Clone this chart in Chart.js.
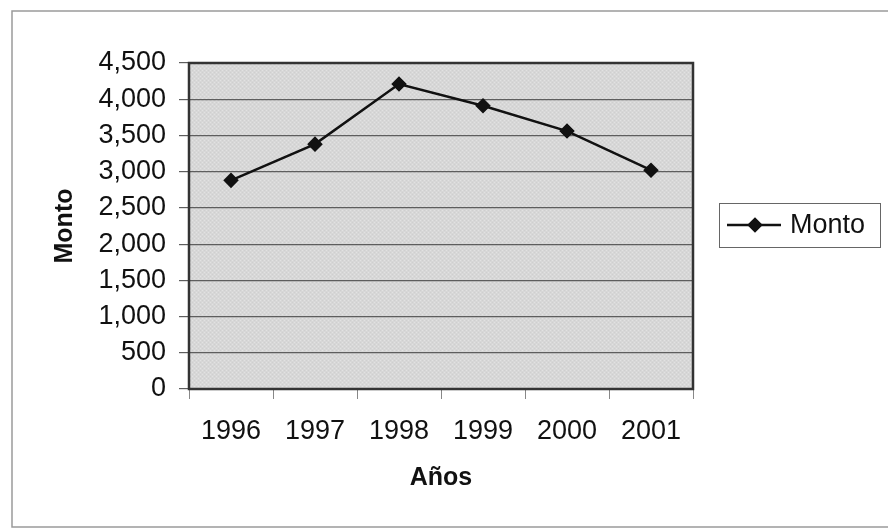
<!DOCTYPE html>
<html>
<head>
    <meta charset="utf-8">
    <title>Monto por año</title>
    <script src="https://cdn.jsdelivr.net/npm/chart.js"></script>
    <style>
        body { margin: 0; background: #fff; }
        #wrap { width: 888px; height: 529px; }
    </style>
</head>
<body>
    <div id="wrap"><canvas id="grafico"></canvas></div>

    <script>
        // Datos
        const anios = ['1996', '1997', '1998', '1999', '2000', '2001'];
        const monto = [2880, 3380, 4210, 3910, 3560, 3020];
        const serie = 'Monto';
        const tituloX = 'Años';
        const tituloY = 'Monto';

        const fuente = "'Liberation Sans', Arial, sans-serif";

        // trama gris clara para el area de trazado
        function trama() {
            const c = document.createElement('canvas');
            c.width = 4; c.height = 4;
            const g = c.getContext('2d');
            g.fillStyle = '#d7d7d7';
            g.fillRect(0, 0, 4, 4);
            g.fillStyle = '#e2e2e2';
            g.fillRect(0, 0, 1, 1);
            g.fillRect(2, 2, 1, 1);
            g.fillStyle = '#cfcfcf';
            g.fillRect(2, 0, 1, 1);
            g.fillRect(0, 2, 1, 1);
            return g.createPattern(c, 'repeat');
        }

        // fondo del area de trazado, borde y marco exterior
        const fondo = {
            id: 'fondo',
            beforeDraw(chart) {
                const { ctx, chartArea: a } = chart;
                ctx.save();
                ctx.fillStyle = trama();
                ctx.fillRect(a.left, a.top, a.right - a.left, a.bottom - a.top);
                ctx.strokeStyle = '#9a9a9a';
                ctx.lineWidth = 1.5;
                ctx.strokeRect(12, 11, 890, 516);
                ctx.restore();
            },
            afterDatasetsDraw(chart) {
                const { ctx, chartArea: a } = chart;
                ctx.save();
                ctx.strokeStyle = '#333';
                ctx.lineWidth = 2.5;
                ctx.strokeRect(a.left, a.top, a.right - a.left, a.bottom - a.top);
                ctx.restore();
            }
        };

        // leyenda con recuadro a la derecha
        const leyenda = {
            id: 'leyenda',
            afterDraw(chart) {
                const { ctx } = chart;
                const ds = chart.data.datasets[0];
                const x = 719, y = 203, w = 161, h = 44;
                const cy = y + h / 2;
                ctx.save();
                ctx.strokeStyle = '#666';
                ctx.lineWidth = 1;
                ctx.strokeRect(x + 0.5, y + 0.5, w, h);
                ctx.strokeStyle = ds.borderColor;
                ctx.lineWidth = ds.borderWidth;
                ctx.beginPath();
                ctx.moveTo(x + 8, cy);
                ctx.lineTo(x + 62, cy);
                ctx.stroke();
                Chart.helpers.drawPoint(ctx, {
                    pointStyle: ds.pointStyle,
                    radius: ds.pointRadius,
                    borderWidth: 1
                }, x + 36, cy);
                ctx.fillStyle = ds.pointBackgroundColor;
                ctx.fill();
                ctx.fillStyle = '#111';
                ctx.font = '27px ' + fuente;
                ctx.textBaseline = 'middle';
                ctx.fillText(ds.label, x + 71, cy + 1);
                ctx.restore();
            }
        };

        const ctx = document.getElementById('grafico').getContext('2d');
        new Chart(ctx, {
            type: 'line',
            data: {
                labels: anios,
                datasets: [{
                    label: serie,
                    data: monto,
                    borderColor: '#111',
                    borderWidth: 2.5,
                    pointStyle: 'rectRot',
                    pointRadius: 6,
                    pointBackgroundColor: '#111',
                    pointBorderColor: '#111',
                    tension: 0
                }]
            },
            options: {
                responsive: true,
                maintainAspectRatio: false,
                animation: false,
                layout: { padding: { left: 0, top: 63, right: 195, bottom: 0 } },
                plugins: {
                    legend: { display: false },
                    tooltip: { enabled: false }
                },
                scales: {
                    x: {
                        offset: true,
                        grid: {
                            offset: true,
                            drawOnChartArea: false,
                            tickLength: 10,
                            color: '#888'
                        },
                        border: { display: false },
                        ticks: {
                            color: '#111',
                            padding: 16,
                            font: { family: fuente, size: 27 }
                        },
                        title: {
                            display: true,
                            text: tituloX,
                            color: '#111',
                            padding: { top: 0, bottom: 36 },
                            font: { family: fuente, size: 25, weight: 'bold' }
                        },
                        afterFit(scale) { scale.height = 140; }
                    },
                    y: {
                        min: 0,
                        max: 4500,
                        grid: {
                            color: '#5e5e5e',
                            lineWidth: 1.2,
                            tickLength: 10
                        },
                        border: { display: false },
                        ticks: {
                            stepSize: 500,
                            color: '#111',
                            padding: 13,
                            font: { family: fuente, size: 27 },
                            callback: v => v.toLocaleString('en-US')
                        },
                        title: {
                            display: true,
                            text: tituloY,
                            color: '#111',
                            padding: { top: 50, bottom: 0 },
                            font: { family: fuente, size: 25, weight: 'bold' }
                        },
                        afterFit(scale) { scale.width = 189; }
                    }
                }
            },
            plugins: [fondo, leyenda]
        });
    </script>
</body>
</html>
